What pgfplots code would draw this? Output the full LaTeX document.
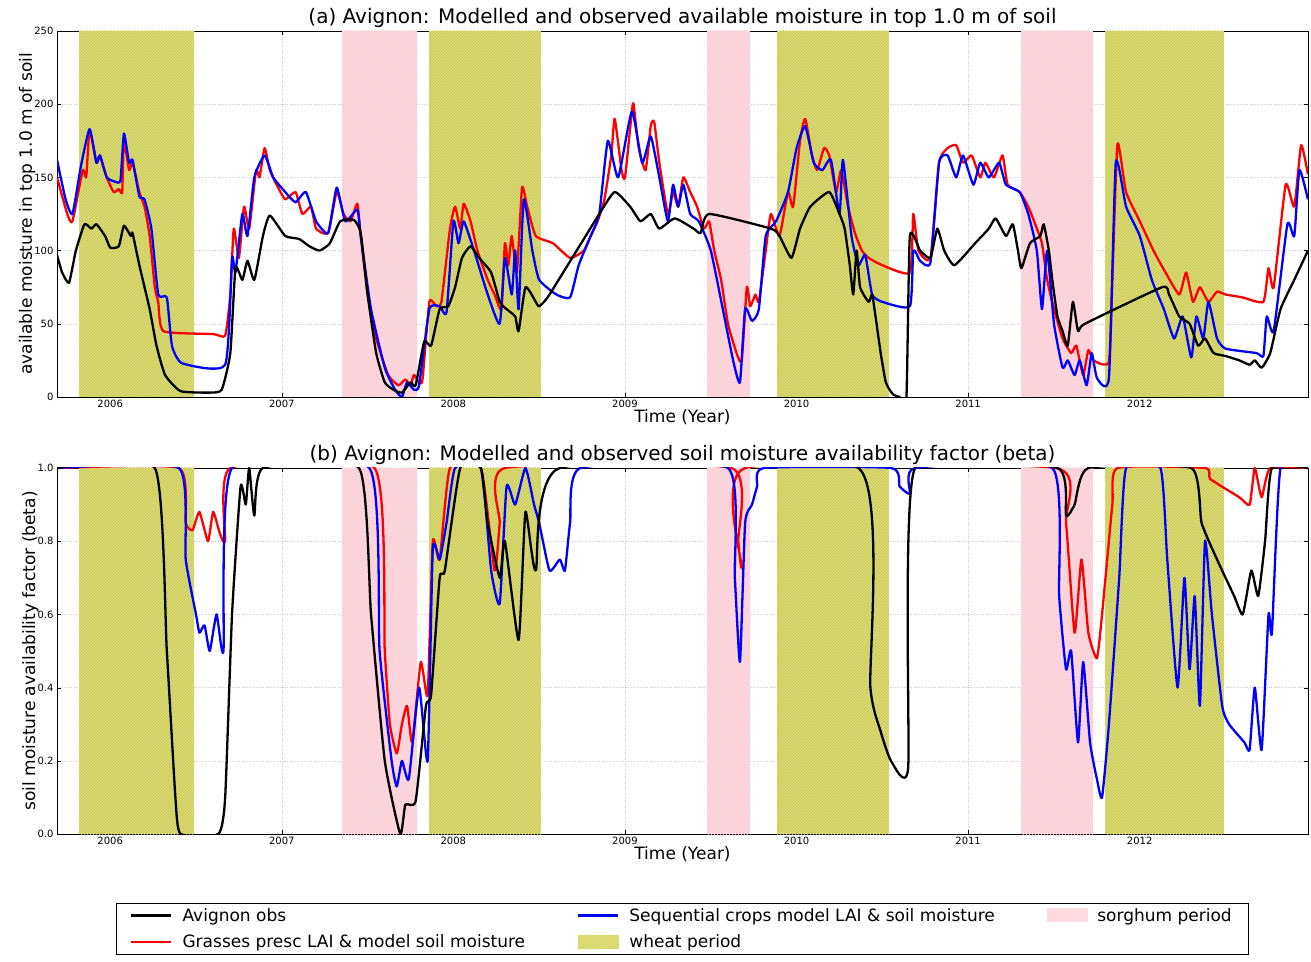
\documentclass[border=0pt]{standalone}
\usepackage{pgfplots}
\pgfplotsset{compat=1.18}
\usepackage{fontspec}
\setmainfont{DejaVu Sans}
\usetikzlibrary{patterns}
\definecolor{wheatc}{RGB}{218,218,115}
\definecolor{wheath}{RGB}{200,200,90}
\definecolor{sorgc}{RGB}{255,218,224}
\definecolor{sorgh}{RGB}{245,200,208}
\pgfplotsset{
  base/.style={
    width=1251pt, height=366pt, scale only axis,
    xmin=2005.69, xmax=2012.98,
    xtick={2006,2007,...,2012},
    xticklabels={2006,2007,2008,2009,2010,2011,2012},
    grid=major, major grid style={dotted, gray!40},
    tick align=inside, ticks=both, tick style={black},
    /pgf/number format/assume math mode=true,
    tick label style={font=\fontsize{10}{12}\selectfont},
    xlabel={Time (Year)},
    label style={font=\fontsize{17}{20}\selectfont},
    xlabel style={yshift=5pt},
    title style={font=\fontsize{20}{24}\selectfont, yshift=-6pt},
  },
  ln/.style={line width=2.3pt, line join=round, smooth, tension=0.3},
  wh/.style={fill=wheatc, draw=none, forget plot, postaction={pattern=north east lines, pattern color=wheath}},
  so/.style={fill=sorgc, draw=none, forget plot, postaction={pattern=north east lines, pattern color=sorgh}},
}
\newcommand{\regions}[1]{%
\addplot[wh] coordinates {(2005.82,0)(2005.82,#1)(2006.49,#1)(2006.49,0)} -- cycle;
\addplot[wh] coordinates {(2007.86,0)(2007.86,#1)(2008.51,#1)(2008.51,0)} -- cycle;
\addplot[wh] coordinates {(2009.886,0)(2009.886,#1)(2010.536,#1)(2010.536,0)} -- cycle;
\addplot[wh] coordinates {(2011.80,0)(2011.80,#1)(2012.49,#1)(2012.49,0)} -- cycle;
\addplot[so] coordinates {(2007.35,0)(2007.35,#1)(2007.79,#1)(2007.79,0)} -- cycle;
\addplot[so] coordinates {(2009.48,0)(2009.48,#1)(2009.73,#1)(2009.73,0)} -- cycle;
\addplot[so] coordinates {(2011.31,0)(2011.31,#1)(2011.73,#1)(2011.73,0)} -- cycle;
}
\begin{document}
\begin{tikzpicture}[x=1pt,y=1pt]
\path (0,0) rectangle (1311,961);
\begin{axis}[base, at={(57pt,564pt)}, anchor=south west,
  ymin=0, ymax=250, ytick={0,50,...,250},
  ylabel={available moisture in top 1.0 m of soil}, ylabel style={yshift=-8pt},
  title={(a) Avignon: Modelled and observed available moisture in top 1.0 m of soil}]
\regions{250}
\addplot[ln, red, forget plot] coordinates {(2005.69,150)(2005.75,125)(2005.78,120)(2005.84,155)(2005.86,150)(2005.88,182)(2005.92,160)(2005.94,165)(2005.98,150)(2006.02,140)(2006.05,142)(2006.07,140)(2006.08,175)(2006.11,155)(2006.13,160)(2006.17,140)(2006.2,130)(2006.23,110)(2006.26,75)(2006.28,65)(2006.31,45)(2006.6,43)(2006.67,42)(2006.7,70)(2006.72,115)(2006.75,95)(2006.78,130)(2006.81,115)(2006.85,155)(2006.87,150)(2006.9,170)(2006.93,155)(2006.97,145)(2007.02,135)(2007.08,140)(2007.12,125)(2007.17,130)(2007.2,115)(2007.27,112)(2007.32,140)(2007.36,125)(2007.4,120)(2007.44,132)(2007.46,110)(2007.5,70)(2007.55,40)(2007.62,15)(2007.68,8)(2007.72,12)(2007.75,8)(2007.77,15)(2007.8,10)(2007.82,12)(2007.86,65)(2007.9,62)(2007.93,65)(2007.98,115)(2008.01,130)(2008.04,115)(2008.06,132)(2008.1,120)(2008.14,100)(2008.2,80)(2008.24,70)(2008.28,60)(2008.3,105)(2008.32,90)(2008.34,110)(2008.37,85)(2008.4,143)(2008.43,130)(2008.48,110)(2008.58,105)(2008.68,95)(2008.76,100)(2008.8,110)(2008.84,120)(2008.88,135)(2008.92,165)(2008.94,190)(2008.98,155)(2009.0,150)(2009.04,195)(2009.05,200)(2009.08,170)(2009.12,155)(2009.15,185)(2009.17,188)(2009.2,160)(2009.25,125)(2009.28,140)(2009.31,130)(2009.34,150)(2009.38,140)(2009.42,130)(2009.46,115)(2009.49,120)(2009.52,100)(2009.56,80)(2009.6,50)(2009.65,30)(2009.68,25)(2009.71,75)(2009.73,62)(2009.76,70)(2009.78,65)(2009.82,100)(2009.85,125)(2009.9,110)(2009.95,140)(2009.98,130)(2010.02,175)(2010.05,190)(2010.09,165)(2010.12,155)(2010.16,170)(2010.19,165)(2010.23,140)(2010.26,155)(2010.3,130)(2010.34,112)(2010.38,100)(2010.42,95)(2010.5,90)(2010.66,85)(2010.68,125)(2010.71,100)(2010.78,95)(2010.83,160)(2010.88,170)(2010.93,172)(2010.97,160)(2011.02,165)(2011.07,150)(2011.1,160)(2011.15,150)(2011.2,165)(2011.23,145)(2011.3,140)(2011.35,130)(2011.4,115)(2011.43,105)(2011.46,80)(2011.5,60)(2011.55,40)(2011.6,30)(2011.63,35)(2011.67,15)(2011.7,32)(2011.73,25)(2011.82,24)(2011.84,80)(2011.87,173)(2011.92,140)(2012.0,120)(2012.08,100)(2012.15,85)(2012.23,70)(2012.27,85)(2012.31,65)(2012.35,75)(2012.4,65)(2012.45,72)(2012.5,70)(2012.6,68)(2012.72,65)(2012.75,88)(2012.78,75)(2012.85,145)(2012.9,130)(2012.94,172)(2012.98,152)};
\addplot[ln, blue, forget plot] coordinates {(2005.69,162)(2005.74,135)(2005.78,125)(2005.83,158)(2005.88,183)(2005.92,160)(2005.94,165)(2005.98,150)(2006.03,147)(2006.06,148)(2006.08,180)(2006.11,160)(2006.13,162)(2006.17,137)(2006.2,135)(2006.24,115)(2006.28,70)(2006.33,68)(2006.36,35)(2006.42,23)(2006.67,22)(2006.71,95)(2006.73,85)(2006.77,125)(2006.8,110)(2006.84,150)(2006.9,165)(2006.95,150)(2007.02,140)(2007.08,133)(2007.14,140)(2007.2,120)(2007.27,112)(2007.32,143)(2007.37,120)(2007.44,128)(2007.46,110)(2007.52,60)(2007.6,20)(2007.66,5)(2007.7,0)(2007.73,10)(2007.77,5)(2007.8,8)(2007.86,60)(2007.92,62)(2007.96,58)(2008.0,120)(2008.03,105)(2008.06,120)(2008.12,100)(2008.2,70)(2008.27,50)(2008.3,95)(2008.34,70)(2008.36,100)(2008.38,60)(2008.41,135)(2008.46,100)(2008.5,80)(2008.6,70)(2008.68,68)(2008.73,90)(2008.8,110)(2008.85,125)(2008.9,175)(2008.96,150)(2009.04,195)(2009.1,160)(2009.15,178)(2009.2,150)(2009.25,120)(2009.28,145)(2009.31,130)(2009.34,145)(2009.38,125)(2009.43,120)(2009.5,100)(2009.57,60)(2009.63,25)(2009.67,10)(2009.7,60)(2009.74,52)(2009.78,60)(2009.82,110)(2009.88,120)(2009.95,140)(2010.0,170)(2010.05,185)(2010.1,160)(2010.15,155)(2010.2,162)(2010.25,125)(2010.27,162)(2010.32,110)(2010.36,90)(2010.4,97)(2010.44,70)(2010.5,65)(2010.66,62)(2010.68,100)(2010.72,93)(2010.78,92)(2010.83,160)(2010.88,165)(2010.93,150)(2010.97,165)(2011.03,145)(2011.07,160)(2011.12,150)(2011.18,160)(2011.22,145)(2011.3,140)(2011.35,125)(2011.4,100)(2011.43,60)(2011.46,100)(2011.5,50)(2011.55,20)(2011.58,25)(2011.62,15)(2011.65,25)(2011.69,8)(2011.72,30)(2011.75,13)(2011.82,13)(2011.86,160)(2011.92,130)(2012.0,110)(2012.07,80)(2012.14,60)(2012.2,40)(2012.25,55)(2012.3,27)(2012.33,55)(2012.37,40)(2012.4,65)(2012.45,40)(2012.5,33)(2012.68,30)(2012.72,28)(2012.74,55)(2012.78,45)(2012.86,118)(2012.9,110)(2012.93,155)(2012.98,135)};
\addplot[ln, black, forget plot] coordinates {(2005.69,97)(2005.72,85)(2005.76,78)(2005.8,100)(2005.85,118)(2005.89,115)(2005.92,118)(2005.97,110)(2006.0,102)(2006.05,103)(2006.08,117)(2006.12,110)(2006.13,112)(2006.17,90)(2006.23,60)(2006.27,35)(2006.32,15)(2006.41,4)(2006.58,3)(2006.65,5)(2006.7,30)(2006.73,88)(2006.77,80)(2006.8,93)(2006.84,80)(2006.89,110)(2006.93,124)(2007.02,110)(2007.1,108)(2007.16,103)(2007.22,100)(2007.28,105)(2007.34,120)(2007.42,121)(2007.46,112)(2007.5,70)(2007.55,30)(2007.6,10)(2007.65,5)(2007.7,3)(2007.75,10)(2007.78,8)(2007.83,38)(2007.87,35)(2007.92,60)(2007.97,62)(2008.01,75)(2008.05,95)(2008.1,103)(2008.15,95)(2008.22,85)(2008.27,65)(2008.31,60)(2008.36,55)(2008.38,45)(2008.42,75)(2008.48,65)(2008.5,62)(2008.56,70)(2008.85,125)(2008.94,140)(2009.03,130)(2009.09,120)(2009.15,125)(2009.2,115)(2009.29,122)(2009.4,115)(2009.44,112)(2009.49,125)(2009.85,115)(2009.9,110)(2009.97,95)(2010.02,115)(2010.08,130)(2010.19,140)(2010.25,125)(2010.28,115)(2010.31,90)(2010.33,70)(2010.35,100)(2010.37,75)(2010.42,65)(2010.44,70)(2010.46,55)(2010.49,30)(2010.52,10)(2010.56,2)(2010.6,0)(2010.64,0)(2010.66,110)(2010.72,100)(2010.78,95)(2010.82,115)(2010.86,100)(2010.92,90)(2011.04,105)(2011.12,115)(2011.16,122)(2011.22,110)(2011.26,118)(2011.29,100)(2011.31,88)(2011.36,105)(2011.42,110)(2011.44,118)(2011.47,100)(2011.49,80)(2011.52,55)(2011.55,45)(2011.58,35)(2011.61,65)(2011.64,45)(2011.68,50)(2012.13,75)(2012.17,70)(2012.23,55)(2012.29,50)(2012.34,35)(2012.38,40)(2012.43,30)(2012.5,28)(2012.58,25)(2012.64,22)(2012.67,25)(2012.71,20)(2012.76,30)(2012.82,60)(2012.9,80)(2012.98,100)};
\end{axis}
\begin{axis}[base, at={(57pt,127pt)}, anchor=south west,
  ymin=0, ymax=1, ytick={0,0.2,...,1},
  yticklabel style={/pgf/number format/.cd, fixed, fixed zerofill, precision=1},
  ylabel={soil moisture availability factor (beta)}, ylabel style={yshift=-8pt},
  title={(b) Avignon: Modelled and observed soil moisture availability factor (beta)},
  legend style={at={(0.4996,-0.189)}, anchor=north, draw=black, legend columns=3,
    font=\fontsize{17}{20}\selectfont, cells={anchor=west}, column sep=8pt,
    inner xsep=14pt, inner ysep=3pt, row sep=8pt,
    /tikz/every even column/.append style={column sep=50pt}},
  legend image code/.code={\draw[#1] (0pt,0pt) -- (40pt,0pt);}]
\regions{1}
\addplot[ln, red, forget plot] coordinates {(2005.69,1)(2006.4,1)(2006.44,0.85)(2006.48,0.83)(2006.52,0.88)(2006.57,0.8)(2006.6,0.88)(2006.64,0.82)(2006.67,0.8)(2006.7,1)(2007.54,1)(2007.6,0.5)(2007.63,0.3)(2007.67,0.22)(2007.7,0.3)(2007.73,0.35)(2007.76,0.25)(2007.81,0.47)(2007.85,0.38)(2007.88,0.8)(2007.92,0.75)(2007.98,1)(2008.16,1)(2008.24,0.72)(2008.27,0.85)(2008.3,1)(2009.62,1)(2009.66,0.8)(2009.68,0.73)(2009.7,1)(2011.51,1)(2011.57,0.85)(2011.62,0.55)(2011.66,0.75)(2011.7,0.55)(2011.75,0.48)(2011.78,0.6)(2011.84,0.9)(2011.87,1)(2012.38,1)(2012.41,0.97)(2012.58,0.92)(2012.64,0.9)(2012.67,1)(2012.71,0.92)(2012.76,1)(2012.98,1)};
\addplot[ln, blue, forget plot] coordinates {(2005.69,1)(2006.4,1)(2006.44,0.75)(2006.5,0.6)(2006.52,0.55)(2006.55,0.57)(2006.58,0.5)(2006.62,0.6)(2006.66,0.5)(2006.71,1)(2007.51,1)(2007.57,0.5)(2007.64,0.2)(2007.67,0.13)(2007.7,0.2)(2007.74,0.15)(2007.8,0.4)(2007.85,0.2)(2007.88,0.78)(2007.92,0.75)(2007.96,0.85)(2008.01,1)(2008.16,1)(2008.22,0.72)(2008.27,0.63)(2008.31,0.95)(2008.36,0.9)(2008.42,1)(2008.47,0.9)(2008.5,0.85)(2008.56,0.72)(2008.62,0.75)(2008.65,0.72)(2008.68,0.85)(2008.74,1)(2009.6,1)(2009.64,0.7)(2009.67,0.47)(2009.7,0.85)(2009.74,0.9)(2009.77,0.95)(2009.81,1)(2010.55,1)(2010.6,0.95)(2010.66,0.93)(2010.69,1)(2011.49,1)(2011.53,0.65)(2011.57,0.45)(2011.6,0.5)(2011.64,0.25)(2011.67,0.47)(2011.71,0.25)(2011.75,0.15)(2011.78,0.1)(2011.82,0.3)(2011.88,0.7)(2011.92,1)(2012.12,1)(2012.16,0.75)(2012.22,0.4)(2012.26,0.7)(2012.29,0.45)(2012.32,0.65)(2012.35,0.35)(2012.38,0.8)(2012.42,0.6)(2012.48,0.35)(2012.52,0.3)(2012.61,0.25)(2012.64,0.23)(2012.67,0.4)(2012.71,0.23)(2012.75,0.6)(2012.77,0.55)(2012.82,1)(2012.98,1)};
\addplot[ln, black, forget plot] coordinates {(2005.69,1)(2006.26,1)(2006.33,0.5)(2006.38,0.1)(2006.41,0)(2006.63,0)(2006.67,0.1)(2006.71,0.6)(2006.76,0.95)(2006.79,0.9)(2006.81,1)(2006.84,0.87)(2006.89,1)(2007.45,1)(2007.52,0.6)(2007.6,0.2)(2007.69,0)(2007.72,0.08)(2007.78,0.09)(2007.84,0.35)(2007.87,0.38)(2007.92,0.7)(2007.95,0.72)(2008.04,1)(2008.16,1)(2008.2,0.85)(2008.27,0.7)(2008.3,0.8)(2008.38,0.53)(2008.42,0.88)(2008.48,0.72)(2008.62,1)(2010.36,1)(2010.43,0.4)(2010.49,0.28)(2010.55,0.2)(2010.65,0.18)(2010.69,1)(2011.52,1)(2011.57,0.87)(2011.62,0.9)(2011.7,1)(2012.3,1)(2012.36,0.85)(2012.45,0.75)(2012.55,0.65)(2012.6,0.6)(2012.65,0.72)(2012.69,0.65)(2012.73,0.8)(2012.77,1)(2012.98,1)};
\addlegendimage{black, line width=2.3pt}\addlegendentry{Avignon obs}
\addlegendimage{blue, line width=2.3pt}\addlegendentry{Sequential crops model LAI \& soil moisture}
\addlegendimage{legend image code/.code={\fill[sorgc] (0pt,-6pt) rectangle (40pt,7pt);}}\addlegendentry{sorghum period}
\addlegendimage{red, line width=2.3pt}\addlegendentry{Grasses presc LAI \& model soil moisture}
\addlegendimage{legend image code/.code={\fill[wheatc] (0pt,-6pt) rectangle (40pt,7pt);}}\addlegendentry{wheat period}
\end{axis}
\end{tikzpicture}
\end{document}
